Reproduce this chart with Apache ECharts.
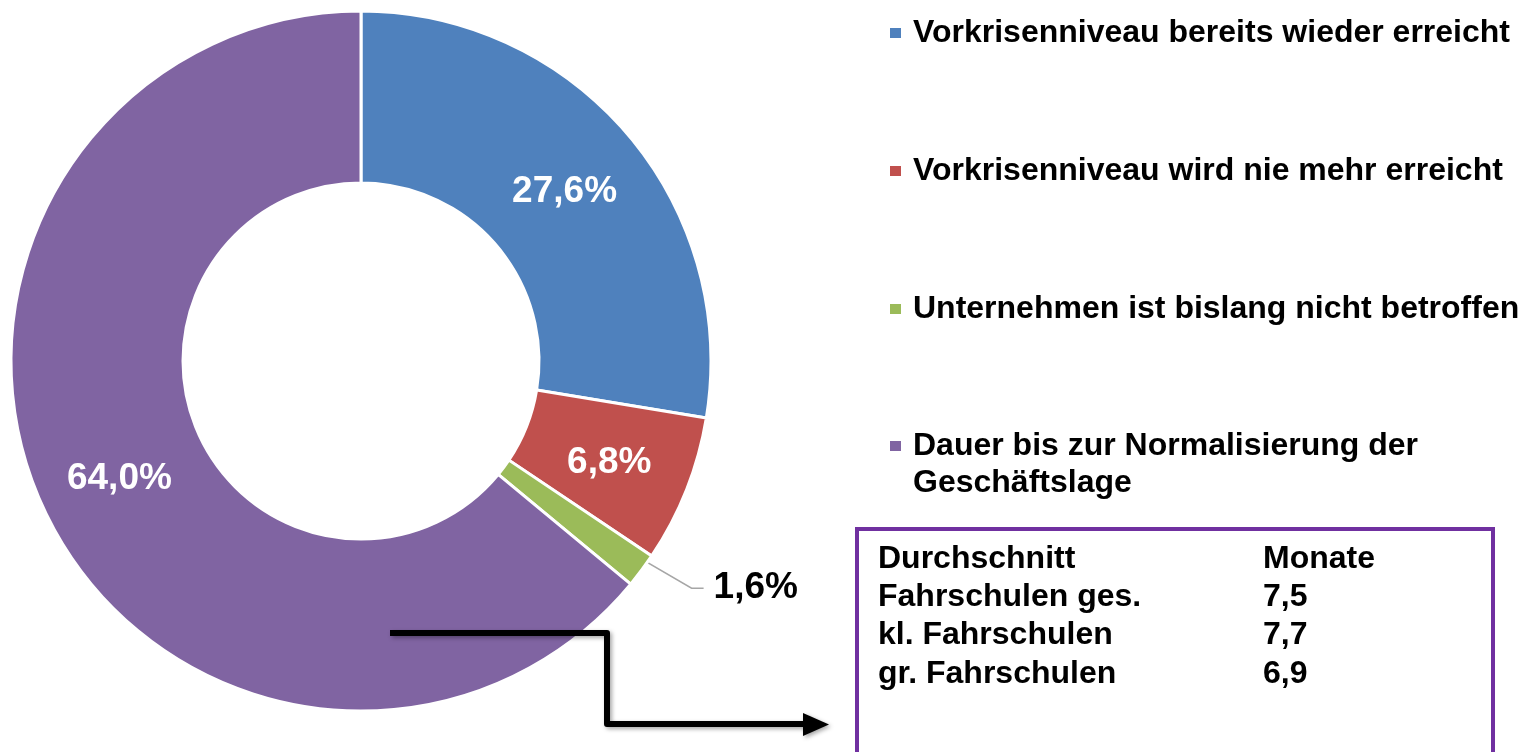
<!doctype html>
<html>
	<head>
		<meta charset="UTF-8">
		<title></title>
		<script src="https://cdn.jsdelivr.net/npm/echarts@6/dist/echarts.min.js"></script>
		<style>
			html, body { margin: 0; padding: 0; background: #fff; }
			#main { width: 1535px; height: 752px; }
		</style>
	</head>
	<body>
		<div id="main"></div>
		<script type="text/javascript">
			// Anteile (Prozent)
			var kategorien = ['Vorkrisenniveau bereits wieder erreicht', 'Vorkrisenniveau wird nie mehr erreicht', 'Unternehmen ist bislang nicht betroffen', 'Dauer bis zur Normalisierung der Geschäftslage'];
			var anteile = [27.6, 6.8, 1.6, 64.0];
			var farben = ['#4F81BD', '#C0504D', '#9BBB59', '#8064A2'];
			// Tabelle im Kasten
			var tabZeilen = ['Durchschnitt', 'Fahrschulen ges.', 'kl. Fahrschulen', 'gr. Fahrschulen'];
			var tabMonate = ['Monate', '7,5', '7,7', '6,9'];

			var schrift = '"Liberation Sans", Arial, sans-serif';
			var myChart = echarts.init(document.getElementById('main'));

			var daten = [];
			for (var i = 0; i < anteile.length; i++) {
				var d = { name: kategorien[i], value: anteile[i] };
				if (i == 2) {
					// kleiner Wert: Beschriftung außen mit Linie
					d.label = { position: 'outside', color: '#000', distanceToLabelLine: 10, offset: [0, 0] };
					d.labelLine = { show: true, length: 30, length2: 38, lineStyle: { color: '#A6A6A6', width: 1.5 } };
				}
				daten.push(d);
			}

			var tabTexte = [];
			for (var j = 0; j < tabZeilen.length; j++) {
				tabTexte.push({
					type: 'text', left: 878, top: 543 + j * 38.3,
					style: { text: tabZeilen[j], font: 'bold 32px ' + schrift, fill: '#000' }
				});
				tabTexte.push({
					type: 'text', left: 1263, top: 543 + j * 38.3,
					style: { text: tabMonate[j], font: 'bold 32px ' + schrift, fill: '#000' }
				});
			}

			var legendText = {
				color: '#000', fontSize: 32, fontWeight: 'bold', fontFamily: schrift,
				lineHeight: 37, width: 640, overflow: 'break', padding: [0, 0, 0, 6]
			};

			var option = {
				backgroundColor: '#fff',
				color: farben,
				animation: false,
				legend: [{
					orient: 'vertical', left: 888, top: 14.5, padding: 0,
					itemWidth: 13, itemHeight: 12, itemGap: 101, icon: 'rect',
					data: kategorien.slice(0, 3),
					textStyle: legendText,
					selectedMode: false
				}, {
					orient: 'vertical', left: 888, top: 390.5, padding: 0,
					itemWidth: 13, itemHeight: 12, icon: 'rect',
					data: kategorien.slice(3),
					// leere erste Zeile, damit die erste Textzeile neben dem Symbol steht
					formatter: function (n) { return '\n' + n; },
					textStyle: legendText,
					selectedMode: false
				}],
				series: [{
					type: 'pie',
					center: [361, 361],
					radius: [178, 350],
					startAngle: 90,
					clockwise: true,
					avoidLabelOverlap: false,
					itemStyle: { borderColor: '#fff', borderWidth: 3 },
					label: {
						show: true,
						position: 'inside',
						color: '#fff',
						fontSize: 37,
						fontWeight: 'bold',
						fontFamily: schrift,
						offset: [0, 4],
						formatter: function (p) {
							return p.value.toFixed(1).replace('.', ',') + '%';
						}
					},
					labelLine: { show: false },
					// Linie der Außenbeschriftung beginnt mitten im Segment
					labelLayout: function (p) {
						if (p.dataIndex !== 2 || !p.labelLinePoints) return;
						var pts = p.labelLinePoints;
						var dx = pts[1][0] - pts[0][0], dy = pts[1][1] - pts[0][1];
						var len = Math.sqrt(dx * dx + dy * dy) || 1;
						var start = [pts[0][0] - dx / len * 85, pts[0][1] - dy / len * 85];
						return { labelLinePoints: [start, [pts[2][0] - 12, pts[2][1]], pts[2]] };
					},
					emphasis: { disabled: true },
					data: daten
				}],
				graphic: [{
					type: 'rect', z: 100,
					shape: { x: 857, y: 529, width: 636, height: 240 },
					style: { fill: 'none', stroke: '#7030A0', lineWidth: 4 }
				}, {
					type: 'group', z: 100, children: tabTexte
				}, {
					type: 'polyline', z: 100,
					shape: { points: [[390, 633], [607, 633], [607, 724], [808, 724]] },
					style: {
						stroke: '#000', lineWidth: 6, fill: null, lineJoin: 'round',
						shadowBlur: 4, shadowColor: 'rgba(0,0,0,0.35)', shadowOffsetX: 2, shadowOffsetY: 2
					}
				}, {
					type: 'polygon', z: 100,
					shape: { points: [[803, 713], [829, 724.5], [803, 736]] },
					style: { fill: '#000', shadowBlur: 4, shadowColor: 'rgba(0,0,0,0.35)', shadowOffsetX: 2, shadowOffsetY: 2 }
				}]
			};
			myChart.setOption(option);
		</script>
	</body>
</html>
